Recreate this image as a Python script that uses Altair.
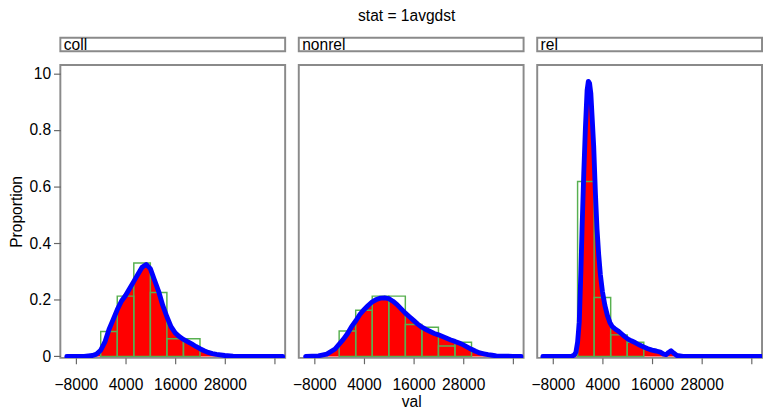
import altair as alt
import pandas as pd

# ---------------- data ----------------
categories = ["coll", "nonrel", "rel"]
bin_width = 4000

coll_bin_start = [-2000, 2000, 6000, 10000, 14000, 18000]
coll_bin_prop = [0.088, 0.213, 0.330, 0.226, 0.062, 0.062]

nonrel_bin_start = [-2000, 2000, 6000, 10000, 14000, 18000, 22000, 26000]
nonrel_bin_prop = [0.090, 0.163, 0.213, 0.213, 0.113, 0.103, 0.037, 0.050]

rel_bin_start = [-2000, 2000, 6000, 10000]
rel_bin_prop = [0.618, 0.208, 0.076, 0.050]

coll_dens_x = [-10200, -6000, -4000, -3000, -2000, -1000, 0, 1000, 2000, 3000,
               4000, 5000, 6000, 7000, 8000, 9000, 10000, 11000, 12000, 13000,
               14000, 15000, 16000, 17000, 18000, 19000, 20000, 21000, 22000,
               23000, 24000, 25000, 26000, 28000, 30000, 32000, 42000]
coll_dens_y = [0, 0, 0.003, 0.008, 0.022, 0.05, 0.095, 0.13, 0.165, 0.195,
               0.215, 0.24, 0.265, 0.29, 0.315, 0.325, 0.31, 0.27, 0.23, 0.18,
               0.14, 0.105, 0.083, 0.07, 0.06, 0.052, 0.044, 0.035, 0.027,
               0.02, 0.014, 0.01, 0.007, 0.003, 0.001, 0, 0]

nonrel_dens_x = [-10100, -7000, -5000, -3000, -1000, 0, 1000, 2000, 3000, 4000,
                 5000, 6000, 7000, 8000, 9000, 10000, 11000, 12000, 13000, 14000,
                 15000, 16000, 17000, 18000, 19000, 20000, 21000, 22000, 23000,
                 24000, 25000, 26000, 27000, 28000, 29000, 30000, 31000, 32000,
                 33000, 34000, 35000, 36000, 38000, 40000, 42000]
nonrel_dens_y = [0, 0.002, 0.008, 0.026, 0.06, 0.08, 0.105, 0.125, 0.148, 0.165,
                 0.18, 0.193, 0.201, 0.206, 0.207, 0.204, 0.195, 0.183, 0.168, 0.153,
                 0.14, 0.127, 0.114, 0.103, 0.095, 0.088, 0.081, 0.076, 0.07,
                 0.064, 0.058, 0.053, 0.047, 0.041, 0.033, 0.025, 0.018, 0.012,
                 0.009, 0.006, 0.004, 0.002, 0.001, 0, 0]

rel_dens_x = [-10400, -3500, -2800, -2400, -2000, -1600, -1200, -900, -500, -100,
              300, 600, 900, 1200, 1500, 1900, 2300, 2700, 3100, 3500, 4000,
              4600, 5200, 5800, 6400, 7000, 7800, 8600, 9400, 10200, 11000,
              12000, 13000, 14000, 15000, 16000, 17000, 18000, 18800, 19400,
              20000, 20600, 21200, 22000, 23500, 42800]
rel_dens_y = [0, 0, 0.005, 0.015, 0.05, 0.12, 0.3, 0.46, 0.65, 0.81,
              0.94, 0.972, 0.965, 0.93, 0.85, 0.74, 0.58, 0.45, 0.36, 0.29, 0.23,
              0.18, 0.145, 0.12, 0.105, 0.098, 0.09, 0.08, 0.07, 0.061, 0.055,
              0.048, 0.04, 0.033, 0.027, 0.022, 0.019, 0.015, 0.008, 0.006,
              0.014, 0.02, 0.012, 0.003, 0, 0]

x_ticks = [-8000, 4000, 16000, 28000, 40000]
y_ticks = [0, 0.2, 0.4, 0.6, 0.8, 1.0]

title_text = "stat = 1avgdst"
x_title = "val"
y_title = "Proportion"

# ---------------- layout / style ----------------
W, H = 231, 301
X_DOMAIN = [-11760, 42590]
Y_DOMAIN = [-0.0053, 1.03]
FONT = "Liberation Sans"
FRAME = "#8a8a8a"

panel_data = {
    "coll": (coll_bin_start, coll_bin_prop, coll_dens_x, coll_dens_y),
    "nonrel": (nonrel_bin_start, nonrel_bin_prop, nonrel_dens_x, nonrel_dens_y),
    "rel": (rel_bin_start, rel_bin_prop, rel_dens_x, rel_dens_y),
}


def make_panel(idx, cat):
    starts, props, dx, dy = panel_data[cat]
    hist = pd.DataFrame({"val": starts,
                         "val_end": [s + bin_width for s in starts],
                         "density": props})
    dens = pd.DataFrame({"val": dx, "density": dy})

    xscale = alt.Scale(domain=X_DOMAIN, nice=False, zero=False)
    yscale = alt.Scale(domain=Y_DOMAIN, nice=False, zero=False)
    xaxis = alt.Axis(values=x_ticks, format="d",
                     labelExpr="datum.value == 40000 ? '' : datum.label",
                     title=x_title if idx == 1 else None,
                     domain=False, grid=False, tickSize=6, tickWidth=1.2,
                     tickColor="#666666", labelPadding=13, labelFontSize=16,
                     labelColor="black", labelFont=FONT, titleFont=FONT,
                     titleFontSize=16, titleFontWeight="normal",
                     titleColor="black", titlePadding=2)
    if idx == 0:
        yaxis = alt.Axis(values=y_ticks,
                         labelExpr="datum.value == 1 ? '10' : datum.value == 0 ? '0' : format(datum.value, '.1f')",
                         title=y_title, domain=False, grid=False, tickSize=7,
                         tickWidth=1.2, tickColor="#666666", labelPadding=3,
                         labelFontSize=16, labelColor="black", labelFont=FONT,
                         titleFont=FONT, titleFontSize=16,
                         titleFontWeight="normal", titleColor="black",
                         titlePadding=5)
    else:
        yaxis = None

    x_enc = alt.X("val:Q", scale=xscale, axis=xaxis)
    y_enc = alt.Y("density:Q", scale=yscale, axis=yaxis)

    area = alt.Chart(dens).mark_area(color="#ff0000", clip=True).encode(
        x=x_enc, y=y_enc)
    bars = alt.Chart(hist).mark_rect(fillOpacity=0, fill="white",
                                     stroke="#58b050", strokeWidth=1.5,
                                     clip=True).encode(
        x=x_enc, x2="val_end:Q", y=y_enc, y2=alt.datum(0))
    line = alt.Chart(dens).mark_line(color="#0000ff", strokeWidth=5,
                                     strokeJoin="round", strokeCap="round",
                                     clip=True).encode(x=x_enc, y=y_enc)
    plot = alt.layer(area, bars, line).properties(width=W, height=H)

    header = alt.Chart(pd.DataFrame({"cat": [cat]})).mark_text(
        align="left", baseline="alphabetic", fontSize=16, font=FONT,
        color="black").encode(
        x=alt.value(3.5), y=alt.value(13), text="cat:N").properties(
        width=W, height=14)
    return alt.vconcat(header, plot, spacing=10)


panels = [make_panel(i, c) for i, c in enumerate(categories)]

chart = alt.hconcat(*panels, spacing=5).properties(
    title=alt.TitleParams(title_text, fontSize=16, font=FONT,
                          fontWeight="normal", color="black",
                          anchor="middle", offset=13, dx=22),
    padding={"left": 7, "top": 3, "right": 0, "bottom": 0},
    background="white",
).configure_view(stroke=FRAME, strokeWidth=2)

chart.save("out.html", embed_options={"renderer": "svg", "actions": False})
